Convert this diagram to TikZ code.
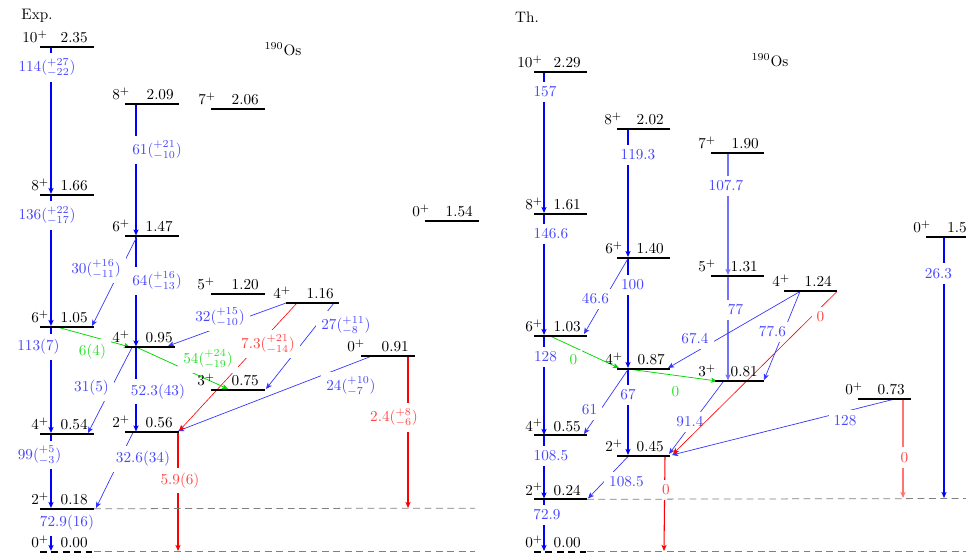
\documentclass[tikz,border=0pt]{standalone}
\usetikzlibrary{arrows.meta}
\definecolor{lblue}{RGB}{70,70,255}
\definecolor{lred}{RGB}{255,70,70}
\definecolor{lgreen}{RGB}{40,225,40}
\newcommand{\Lev}[8]{%
  \draw[levline] (#2,#4) -- (#3,#4);
  \node[spinlab] (#1s) at (#7,#4-4) {$#5^{+}$};
  \node[enlab] (#1e) at (#8,#4-4) {#6};
}
\newcommand{\Tr}[6]{%
  \coordinate (#1a) at (#3,#4);
  \coordinate (#1b) at (#5,#6);
  \draw[#2] (#1a) -- (#1b);
}
\begin{document}
\begin{tikzpicture}[x=0.658pt,y=-0.658pt,
  levline/.style={line width=1.3pt, black},
  spinlab/.style={anchor=base west, inner sep=0pt},
  enlab/.style={anchor=base east, inner sep=0pt},
  tip/.style={-{Stealth[length=4pt,width=3.4pt,inset=1pt]}},
  vb/.style={tip, draw=blue, line width=0.8pt},
  vl/.style={tip, draw=blue!55, line width=0.8pt},
  db/.style={tip, draw=blue!80, line width=0.45pt},
  rv/.style={tip, draw=red, line width=0.7pt},
  rvl/.style={tip, draw=red!55, line width=0.7pt},
  rd/.style={tip, draw=red, line width=0.4pt},
  gd/.style={tip, draw=green!85!black, line width=0.5pt},
  bl/.style={fill=white, text=lblue},
  rl/.style={fill=white, text=lred},
  gl/.style={fill=white, text=lgreen},
  gdash/.style={draw=gray, line width=0.5pt, dash pattern=on 4.5pt off 3pt},
  gnd/.style={levline, dash pattern=on 4.5pt off 3pt}]
\useasboundingbox (0,0) rectangle (966,554);

% titles
\node (expt) at (37,16) {Exp.};
\node (tht) at (527,17.5) {Th.};
\node (os1) at (283,49) {$^{190}$Os};
\node (os2) at (770,60) {$^{190}$Os};

% ================= Exp: blue transitions
\Tr{x1}{vb}{51}{47.5}{51}{194}
\node[bl] (n1) at (47,67.5) {$114(^{+27}_{-22})$};
\Tr{x2}{vb}{51}{195.5}{51}{326}
\node[bl] (n2) at (47,215.5) {$136(^{+22}_{-17})$};
\Tr{x3}{vb}{51}{327.5}{51}{433}
\node[bl] (n3) at (38.5,347) {$113(7)$};
\Tr{x4}{vb}{51}{434.5}{51}{508}
\node[bl] (n4) at (39.5,455) {$99(^{+5}_{-3})$};
\Tr{x5}{vb}{51}{509.5}{51}{551}
\node[bl] (n5) at (67,523) {$72.9(16)$};
\Tr{x6}{vb}{136}{104.5}{136}{235.5}
\node[bl] (n6) at (157,150) {$61(^{+21}_{-10})$};
\Tr{x7}{vb}{136}{236.5}{136}{346.5}
\node[bl] (n7) at (157,281) {$64(^{+16}_{-13})$};
\Tr{x8}{vb}{136}{347.5}{136}{431.5}
\node[bl] (n8) at (158,391.5) {$52.3(43)$};

\Tr{x9}{db}{137}{236.5}{92}{326}
\node[bl] (n9) at (96,269) {$30(^{+16}_{-11})$};
\Tr{x10}{db}{286}{303}{168}{346}
\node[bl] (n10) at (220,317) {$32(^{+15}_{-10})$};
\Tr{x11}{db}{334}{303}{266}{389}
\node[bl] (n11) at (346,325.5) {$27(^{+11}_{-8})$};
\Tr{x12}{db}{372}{356}{178}{431}
\node[bl] (n12) at (351,386) {$24(^{+10}_{-7})$};
\Tr{x13}{db}{132}{347.5}{88}{433}
\node[bl] (n13) at (91.5,388) {$31(5)$};
\Tr{x14}{db}{133}{432.5}{96}{508}
\node[bl] (n14) at (143,459) {$32.6(34)$};

% Exp: red
\Tr{x15}{rd}{297}{303}{179}{431}
\node[rl] (n15) at (268,344) {$7.3(^{+21}_{-14})$};
\Tr{x16}{rv}{178}{432.5}{178}{551}
\node[rl] (n16) at (180,480.5) {$5.9(6)$};
\Tr{x17}{rv}{408}{356.5}{408}{508}
\node[rl] (n17) at (394,417.5) {$2.4(^{+8}_{-6})$};

% Exp: green
\Tr{x18}{gd}{57}{327}{130}{347}
\node[gl] (n18) at (92.5,352) {$6(4)$};
\Tr{x19}{gd}{136}{347}{228}{389}
\node[gl] (n19) at (208,359) {$54(^{+24}_{-19})$};

% ================= Th: blue transitions
\Tr{y1}{vb}{544}{72.5}{544}{213}
\node[bl] (m1) at (545,92) {157};
\Tr{y2}{vb}{544}{214.5}{544}{335}
\node[bl] (m2) at (551,234) {146.6};
\Tr{y3}{vb}{544}{336.5}{544}{435}
\node[bl] (m3) at (545.5,357) {128};
\Tr{y4}{vb}{544}{436}{544}{498.5}
\node[bl] (m4) at (551,456) {108.5};
\Tr{y5}{vb}{544}{500}{544}{551}
\node[bl] (m5) at (547,515) {72.9};
\Tr{y6}{vb}{628}{129.5}{628}{257}
\node[bl] (m6) at (638,155) {119.3};
\Tr{y7}{vb}{628}{258.5}{628}{368}
\node[bl] (m7) at (632.5,285) {100};
\Tr{y8}{vb}{628}{369.5}{628}{455}
\node[bl] (m8) at (628,395) {67};
\Tr{y9}{vl}{728}{153.5}{728}{275}
\node[bl] (m9) at (726,186) {107.7};
\Tr{y10}{vl}{728}{276.5}{728}{380.5}
\node[bl] (m10) at (735.5,310) {77};
\Tr{y11}{vb}{944}{237.5}{944}{498}
\node[bl] (m11) at (938.5,273.5) {26.3};

\Tr{y12}{db}{628}{258.5}{584}{334}
\node[bl] (m12) at (595.5,299) {46.6};
\Tr{y13}{db}{800}{291.5}{668}{368}
\node[bl] (m13) at (695,339) {67.4};
\Tr{y14}{db}{800}{291.5}{764}{380}
\node[bl] (m14) at (772.5,332) {77.6};
\Tr{y15}{db}{628}{369.5}{584}{434}
\node[bl] (m15) at (589.5,410) {61};
\Tr{y16}{db}{723}{382}{669}{454}
\node[bl] (m16) at (690,422) {91.4};
\Tr{y17}{db}{893}{399.5}{672}{455}
\node[bl] (m17) at (845,420.5) {128};
\Tr{y18}{db}{628}{456.5}{588}{498.5}
\node[bl] (m18) at (626.5,482) {108.5};

% Th: red
\Tr{y19}{rd}{837}{291.5}{673}{454}
\node[rl] (m19) at (820.5,317) {0};
\Tr{y20}{rv}{665}{456.5}{664}{551}
\node[rl] (m20) at (666,490) {0};
\Tr{y21}{rvl}{903}{399.5}{903}{498}
\node[rl] (m21) at (904.5,457.5) {0};

% Th: green
\Tr{y22}{gd}{550}{336}{619}{368}
\node[gl] (m22) at (573.5,360) {0};
\Tr{y23}{gd}{628}{369}{717}{381}
\node[gl] (m23) at (675.5,392) {0};

% ================= Exp levels
\Lev{e1}{40}{94}{46.7}{10}{2.35}{22}{88}
\Lev{e2}{125}{179}{104}{8}{2.09}{112}{174}
\Lev{e3}{211}{265}{108.7}{7}{2.06}{198}{259}
\Lev{e4}{40}{94}{194.7}{8}{1.66}{31}{88}
\Lev{e5}{125}{179}{236}{6}{1.47}{112}{173}
\Lev{e6}{211}{265}{294}{5}{1.20}{197}{259}
\Lev{e7}{286}{339}{302.7}{4}{1.16}{273}{334}
\Lev{e8}{425}{479}{220.7}{0}{1.54}{412}{473}
\Lev{e9}{40}{94}{326.7}{6}{1.05}{31}{88}
\Lev{e10}{125}{175}{347}{4}{0.95}{112}{173}
\Lev{e11}{361}{415}{355.7}{0}{0.91}{347}{409}
\Lev{e12}{211}{265}{390}{3}{0.75}{197}{259}
\Lev{e13}{40}{94}{433.7}{4}{0.54}{31}{88}
\Lev{e14}{125}{179}{432}{2}{0.56}{112}{173}
\Lev{e15}{40}{94}{508.7}{2}{0.18}{31}{88}
\draw[gdash] (94,508.7) -- (475,508.2);
\draw[gnd] (40,551.7) -- (94,551.7);
\draw[gdash] (94,551.7) -- (475,551.7);
\node[spinlab] (e16s) at (31,547.7) {$0^{+}$};
\node[enlab] (e16e) at (88,547.7) {0.00};

% ================= Th levels
\Lev{t1}{534}{587}{71.7}{10}{2.29}{517}{581}
\Lev{t2}{617}{670}{128.7}{8}{2.02}{604}{664}
\Lev{t3}{711}{764}{153}{7}{1.90}{698}{759}
\Lev{t4}{534}{587}{213.7}{8}{1.61}{525}{581}
\Lev{t5}{617}{670}{257.7}{6}{1.40}{605}{664}
\Lev{t6}{711}{764}{275.7}{5}{1.31}{698}{758}
\Lev{t7}{784}{837}{290.7}{4}{1.24}{772}{832}
\Lev{t9}{534}{587}{335.7}{6}{1.03}{525}{581}
\Lev{t10}{617}{670}{368.7}{4}{0.87}{605}{665}
\Lev{t11}{715}{764}{381}{3}{0.81}{698}{758}
\Lev{t12}{858}{911}{399}{0}{0.73}{845}{905}
\Lev{t13}{534}{587}{435.3}{4}{0.55}{525}{581}
\Lev{t14}{617}{670}{455.7}{2}{0.45}{605}{664}
\Lev{t15}{534}{587}{499.3}{2}{0.24}{525}{581}
\draw[levline] (926,236.7) -- (980,236.7);
\node[spinlab] (t8s) at (913,232.7) {$0^{+}$};
\node[anchor=base west, inner sep=0pt] (t8e) at (947,232.7) {1.5};
\draw[gdash] (587,499.3) -- (966,498.5);
\draw[gnd] (534,551.7) -- (587,551.7);
\draw[gdash] (587,551.7) -- (966,551.7);
\node[spinlab] (t16s) at (525,547.7) {$0^{+}$};
\node[enlab] (t16e) at (581,547.7) {0.00};
\end{tikzpicture}
\end{document}
